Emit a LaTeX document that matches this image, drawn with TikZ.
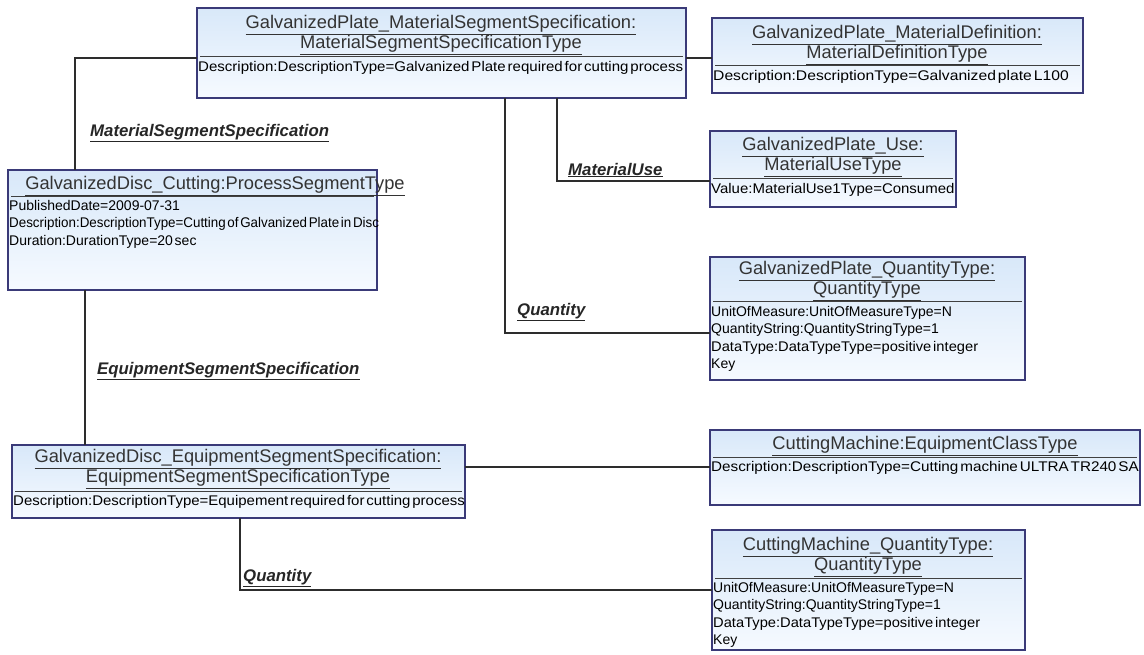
\documentclass[tikz,border=0pt]{standalone}
\usepackage{fontspec}
\usepackage{graphicx}
\setmainfont{Liberation Sans}
\newfontfamily\bodyfont{Liberation Sans}[WordSpace=0.45]
\definecolor{boxtop}{RGB}{216,232,249}
\definecolor{boxbot}{RGB}{246,250,255}
\definecolor{boxline}{RGB}{58,58,120}
\definecolor{conn}{RGB}{45,45,45}
\begin{document}
\begin{tikzpicture}[x=1pt,y=-1pt,
  umlbox/.style={draw=boxline,line width=1.4pt,top color=boxtop,bottom color=boxbot,
    anchor=north west,inner sep=0pt,outer sep=0pt},
  ttl/.style={font=\fontsize{18.3}{20}\selectfont,align=center,inner sep=0pt,text=black!80},
  body/.style={font=\bodyfont\fontsize{14}{17.5}\selectfont,align=left,inner sep=0pt,anchor=north west,text=black},
  sep/.style={draw=black!75,line width=1pt},
  conn/.style={draw=conn,line width=1.3pt},
  rolelbl/.style={font=\fontsize{16.8}{18}\selectfont\bfseries\itshape,inner sep=0pt,anchor=west,text=black!85},
]
\useasboundingbox (0,0) rectangle (1144,655);
\fill[white] (0,0) rectangle (1144,655);

% boxes
\node[umlbox,minimum width=489pt,minimum height=90pt] (mss) at (197,8) {};
\node[umlbox,minimum width=371pt,minimum height=75pt] (md) at (712,18) {};
\node[umlbox,minimum width=246pt,minimum height=76pt] (mu) at (710,131) {};
\node[umlbox,minimum width=315pt,minimum height=123pt] (gpq) at (710,257) {};
\node[umlbox,minimum width=369pt,minimum height=120pt] (proc) at (8,170) {};
\node[umlbox,minimum width=453pt,minimum height=73pt] (ess) at (12,445) {};
\node[umlbox,minimum width=430pt,minimum height=75pt] (cm) at (710,430) {};
\node[umlbox,minimum width=313pt,minimum height=120pt] (cmq) at (712,530) {};

% titles
\node[ttl] (mssT) at (441,35) {\underline{GalvanizedPlate\_MaterialSegmentSpecification:}\\\underline{MaterialSegmentSpecificationType}};
\node[ttl] (mdT) at (897,45) {\underline{GalvanizedPlate\_MaterialDefinition:}\\\underline{MaterialDefinitionType}};
\node[ttl] (muT) at (833,157) {\underline{GalvanizedPlate\_Use:}\\\underline{MaterialUseType}};
\node[ttl] (gpqT) at (867,281) {\underline{GalvanizedPlate\_QuantityType:}\\\underline{QuantityType}};
\node[ttl] (procT) at (215,186) {\underline{GalvanizedDisc\_Cutting:ProcessSegmentType}};
\node[ttl] (essT) at (238,469) {\underline{GalvanizedDisc\_EquipmentSegmentSpecification:}\\\underline{EquipmentSegmentSpecificationType}};
\node[ttl] (cmT) at (925,446) {\underline{CuttingMachine:EquipmentClassType}};
\node[ttl] (cmqT) at (868,557) {\underline{CuttingMachine\_QuantityType:}\\\underline{QuantityType}};

% separators
\draw[sep] (200,57) -- (683,57);
\draw[sep] (715,66) -- (1080,66);
\draw[sep] (713,179) -- (953,179);
\draw[sep] (713,302) -- (1022,302);
\draw[sep] (11,197) -- (374,197);
\draw[sep] (15,491) -- (462,491);
\draw[sep] (713,457) -- (1137,457);
\draw[sep] (715,578) -- (1022,578);

% bodies
\node[body] (mssB) at (198,61) {\scalebox{1.075}[1]{Description:DescriptionType=Galvanized Plate required for cutting process}};
\node[body] (mdB) at (713,70) {\scalebox{1.12}[1]{Description:DescriptionType=Galvanized plate L100}};
\node[body] (muB) at (711,183) {\scalebox{1.07}[1]{Value:MaterialUse1Type=Consumed}};
\node[body] (gpqB) at (711,306) {UnitOfMeasure:UnitOfMeasureType=N\\QuantityString:QuantityStringType=1\\\scalebox{1.05}[1]{DataType:DataTypeType=positive integer}\\Key};
\node[body] (procB) at (9,200) {PublishedDate=2009-07-31\\\scalebox{0.955}[1]{Description:DescriptionType=Cutting of Galvanized Plate in Disc}\\Duration:DurationType=20 sec};
\node[body] (essB) at (13,495) {\scalebox{1.07}[1]{Description:DescriptionType=Equipement required for cutting process}};
\node[body] (cmB) at (711,461) {\scalebox{1.09}[1]{Description:DescriptionType=Cutting machine ULTRA TR240 SA}};
\node[body] (cmqB) at (713,582) {UnitOfMeasure:UnitOfMeasureType=N\\QuantityString:QuantityStringType=1\\\scalebox{1.05}[1]{DataType:DataTypeType=positive integer}\\Key};

% connectors
\draw[conn] ([yshift=-50pt]mss.north west) -| ([xshift=67pt]proc.north west);
\draw[conn] ([xshift=77pt]proc.south west) -- ([xshift=73pt]ess.north west);
\draw[conn] ([yshift=-50pt]mss.north east) -- ([yshift=-40pt]md.north west);
\draw[conn] ([xshift=360pt]mss.south west) |- ([yshift=-50pt]mu.north west);
\draw[conn] ([xshift=308pt]mss.south west) |- ([yshift=-76pt]gpq.north west);
\draw[conn] ([yshift=-22pt]ess.north east) -- ([yshift=-37pt]cm.north west);
\draw[conn] ([xshift=228pt]ess.south west) |- ([yshift=-60pt]cmq.north west);

% role labels
\node[rolelbl] (l1) at (90,133) {\underline{MaterialSegmentSpecification}};
\node[rolelbl] (l2) at (568,170) {\underline{MaterialUse}};
\node[rolelbl] (l3) at (517,312) {\underline{Quantity}};
\node[rolelbl] (l4) at (97,371) {\underline{EquipmentSegmentSpecification}};
\node[rolelbl] (l5) at (243,578) {\underline{Quantity}};
\end{tikzpicture}
\end{document}
